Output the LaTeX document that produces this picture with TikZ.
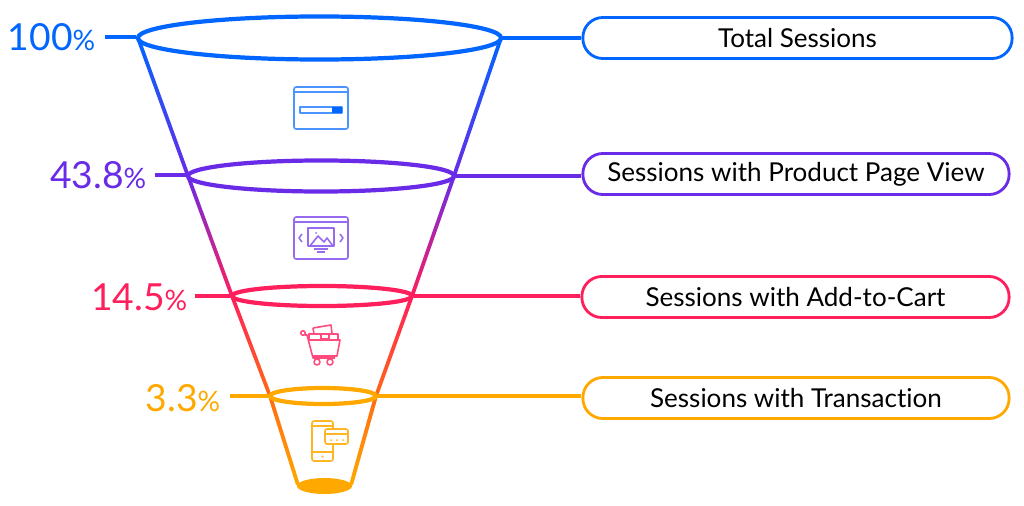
\documentclass[tikz,border=0pt]{standalone}
\usepackage{fontspec}
\setmainfont{Lato}[Ligatures={NoCommon}]
\usetikzlibrary{shapes.geometric,calc}
\definecolor{fblue}{HTML}{0066FF}
\definecolor{fpurple}{HTML}{6A2BE8}
\definecolor{fred}{HTML}{FF1F5C}
\definecolor{fflame}{HTML}{FF6A14}
\definecolor{forange}{HTML}{FFA900}
\tikzset{
  ring/.style={ellipse,draw=#1,line width=1.2pt,inner sep=0pt},
  stagebox/.style={rounded corners=2mm,draw=#1,line width=0.8pt,inner sep=0pt,text=black,font=\fontsize{7.4}{9}\selectfont},
  pct/.style={text=#1,inner sep=0pt,font=\fontsize{10.6}{13}\selectfont},
  icon/.style={draw=#1,line width=0.45pt,line join=round},
  link/.style={draw=#1,line width=1pt}
}
\newcommand{\pctsign}{{\fontsize{8}{9}\selectfont\%}}
% one side of the funnel, shaded between two levels
\newcommand{\sideseg}[4]{\shade[top color=#3,bottom color=#4] ($(#1)+(-2,0)$) -- ($(#1)+(2,0)$) -- ($(#2)+(2,0)$) -- ($(#2)+(-2,0)$) -- cycle;}
\begin{document}
\begin{tikzpicture}[x=0.01cm,y=-0.01cm]
  \useasboundingbox (0,0) rectangle (1024,506);
  % funnel side corners
  \coordinate (la) at (138,38);
  \coordinate (lb) at (188,176);
  \coordinate (lc) at (232,296);
  \coordinate (ld) at (270,396);
  \coordinate (le) at (298,485);
  \coordinate (ra) at (501,38);
  \coordinate (rb) at (454,176);
  \coordinate (rc) at (412,296);
  \coordinate (rd) at (376,396);
  \coordinate (re) at (351,485);
  \sideseg{la}{lb}{fblue}{fpurple}
  \sideseg{lb}{lc}{fpurple}{fred}
  \sideseg{lc}{ld}{fred}{fflame}
  \sideseg{ld}{le}{fflame}{forange}
  \sideseg{ra}{rb}{fblue}{fpurple}
  \sideseg{rb}{rc}{fpurple}{fred}
  \sideseg{rc}{rd}{fred}{fflame}
  \sideseg{rd}{re}{fflame}{forange}
  % rings
  \node [ring=fblue,minimum width=3.63cm,minimum height=0.43cm] (ringa) at (319.5,38) {};
  \node [ring=fpurple,minimum width=2.66cm,minimum height=0.31cm] (ringb) at (321,176) {};
  \node [ring=fred,minimum width=1.80cm,minimum height=0.20cm] (ringc) at (322,296) {};
  \node [ring=forange,minimum width=1.06cm,minimum height=0.16cm] (ringd) at (323,396) {};
  \node [ellipse,fill=forange,inner sep=0pt,minimum width=0.55cm,minimum height=0.16cm] (ringe) at (324.5,486) {};
  % percentages
  \node [pct=fblue,anchor=east] (pcta) at (96,37) {100\pctsign};
  \node [pct=fpurple,anchor=east] (pctb) at (147,175) {43.8\pctsign};
  \node [pct=fred,anchor=east] (pctc) at (188,297) {14.5\pctsign};
  \node [pct=forange,anchor=east] (pctd) at (221,398) {3.3\pctsign};
  % stage boxes
  \node [stagebox=fblue,minimum width=4.29cm,minimum height=0.41cm] (boxa) at (797.5,38) {Total Sessions};
  \node [stagebox=fpurple,minimum width=4.26cm,minimum height=0.41cm] (boxb) at (796,174) {Sessions with Product Page View};
  \node [stagebox=fred,minimum width=4.27cm,minimum height=0.41cm] (boxc) at (795.5,297) {Sessions with Add-to-Cart};
  \node [stagebox=forange,minimum width=4.26cm,minimum height=0.41cm] (boxd) at (796,398) {Sessions with Transaction};
  % connectors
  \coordinate (taila) at (105,37);
  \coordinate (tailb) at (155,175);
  \coordinate (tailc) at (195,296);
  \coordinate (taild) at (230,396);
  \draw [link=fblue] (taila) -- (taila -| ringa.west);
  \draw [link=fblue] (ringa.east) -- (ringa.east -| boxa.west);
  \draw [link=fpurple] (tailb) -- (tailb -| ringb.west);
  \draw [link=fpurple] (ringb.east) -- (ringb.east -| boxb.west);
  \draw [link=fred] (tailc) -- (ringc.west);
  \draw [link=fred] (ringc.east) -- (ringc.east -| boxc.west);
  \draw [link=forange] (taild) -- (ringd.west);
  \draw [link=forange] (ringd.east) -- (ringd.east -| boxd.west);
  % browser icon
  \draw [icon=fblue!70,rounded corners=0.6pt] (294,87) rectangle (348,129);
  \draw [icon=fblue!70] (294,92) -- (348,92);
  \draw [icon=fblue!70] (300,107) rectangle (342,113);
  \fill [fblue] (332,107) rectangle (342,113);
  % gallery icon
  \draw [icon=fpurple!70,rounded corners=0.6pt] (294,217) rectangle (348,259);
  \draw [icon=fpurple!70] (294,222) -- (348,222);
  \draw [icon=fpurple!70] (308,228) rectangle (334,246);
  \draw [icon=fpurple!70] (310,246) -- (318,236) -- (324,242) -- (327,238) -- (333,246);
  \draw [icon=fpurple!70] (314,249) -- (328,249) (317,252) -- (325,252);
  \draw [icon=fpurple!70] (302,234) -- (299,238) -- (302,242);
  \draw [icon=fpurple!70] (340,234) -- (343,238) -- (340,242);
  \fill [fpurple!70] (316,233) circle (1);
  % cart icon
  \draw [icon=fred!80] (303,333) circle (2.3);
  \draw [icon=fred!80] (305,335) -- (307,335) -- (313,358) -- (335,358);
  \draw [icon=fred!80] (308,340) -- (340,340) -- (337,356) -- (312,356);
  \draw [icon=fred!80] (309,340) -- (309,334) -- (338,334) -- (338,340);
  \draw [icon=fred!80] (321,334) rectangle (329,339);
  \draw [icon=fred!80] (313,328) -- (331,325) -- (332,333) (314,334) -- (313,328);
  \draw [icon=fred!80] (317,362) circle (3) (330,362) circle (3);
  % phone and card icon
  \draw [icon=forange!85,rounded corners=0.6pt] (312,421) rectangle (333,461);
  \draw [icon=forange!85] (312,426) -- (333,426) (312,452) -- (333,452);
  \fill [forange!85] (322.5,456.5) circle (1.2);
  \draw [icon=forange!85,fill=white,rounded corners=0.6pt] (325,429) rectangle (348,444);
  \draw [icon=forange!85] (325,434) -- (348,434);
  \fill [forange!85] (331,440) circle (1) (337,440) circle (1) (343,440) circle (1);
\end{tikzpicture}
\end{document}
